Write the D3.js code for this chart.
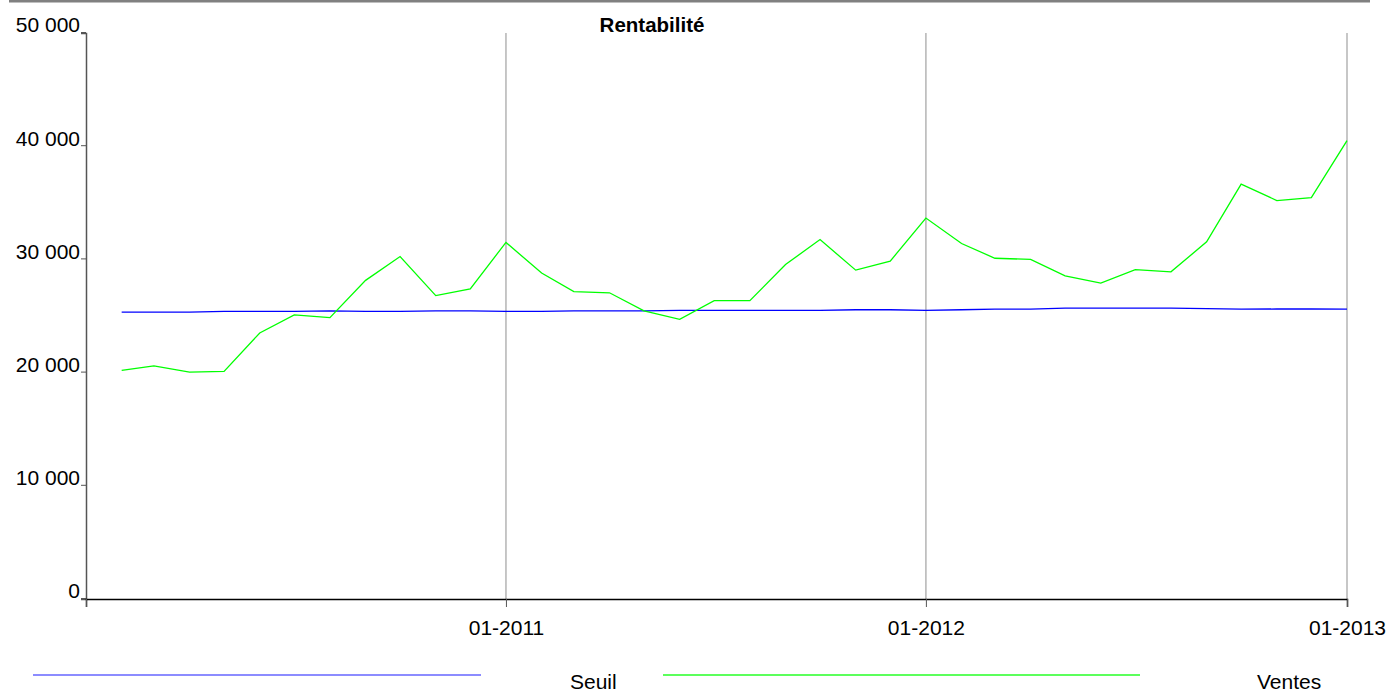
<!DOCTYPE html>
<html lang="fr">
<head>
<meta charset="UTF-8">
<title>Rentabilité</title>
<script src="https://d3js.org/d3.v7.min.js"></script>
<style>
  body { margin: 0; background: #fff; }
  text { font-family: "Liberation Sans", Arial, sans-serif; }
</style>
</head>
<body>
<div id="chart"></div>
<script>
// mois (fin de période) et valeurs
var months = ["2010-02","2010-03","2010-04","2010-05","2010-06","2010-07","2010-08","2010-09","2010-10","2010-11","2010-12",
              "2011-01","2011-02","2011-03","2011-04","2011-05","2011-06","2011-07","2011-08","2011-09","2011-10","2011-11","2011-12",
              "2012-01","2012-02","2012-03","2012-04","2012-05","2012-06","2012-07","2012-08","2012-09","2012-10","2012-11","2012-12",
              "2013-01"];
var ventes = [20200, 20600, 20050, 20100, 23500, 25100, 24850, 28150, 30250, 26800, 27400,
              31500, 28800, 27150, 27050, 25450, 24700, 26350, 26350, 29550, 31750, 29050, 29850,
              33650, 31400, 30100, 30000, 28550, 27900, 29100, 28900, 31550, 36650, 35200, 35450,
              40500];
var seuil = [25350, 25350, 25350, 25400, 25400, 25400, 25450, 25400, 25400, 25450, 25450,
             25400, 25400, 25450, 25450, 25450, 25500, 25500, 25500, 25500, 25500, 25550, 25550,
             25500, 25550, 25600, 25600, 25700, 25700, 25700, 25700, 25650, 25600, 25620, 25620,
             25600];
var yTicks = [0, 10000, 20000, 30000, 40000, 50000];
var xTicks = ["2010-01", "2011-01", "2012-01", "2013-01"];
var seriesNames = ["Seuil", "Ventes"];
var seriesColors = ["#0000ff", "#00ff00"];

var W = 1389, H = 693;
var parse = d3.timeParse("%Y-%m");
var fmt = d3.timeFormat("%m-%Y");
var fmtY = function(v) { return d3.format(",")(v).replace(/,/g, " "); };

var svg = d3.select("#chart").append("svg")
    .attr("width", W).attr("height", H);

// trait gris en haut
svg.append("rect")
    .attr("x", 9).attr("y", 0).attr("width", 1361).attr("height", 2.5)
    .attr("fill", "#808080");

var x = d3.scaleTime()
    .domain([parse("2010-01"), parse("2013-01")])
    .range([86, 1347]);
var y = d3.scaleLinear()
    .domain([0, 50000])
    .range([599, 33]);

// grille verticale
svg.append("g").selectAll("line")
    .data(xTicks.slice(1))
    .enter().append("line")
    .attr("x1", function(d) { return x(parse(d)); })
    .attr("x2", function(d) { return x(parse(d)); })
    .attr("y1", y(50000)).attr("y2", y(0))
    .attr("stroke", "#b4b4b4").attr("stroke-width", 1.5);

// axe Y
var yAxis = svg.append("g")
    .attr("transform", "translate(86,0)")
    .call(d3.axisLeft(y).tickValues(yTicks).tickSize(5).tickFormat(fmtY));
yAxis.select(".domain").attr("stroke", "#555").attr("stroke-width", 1.5);
yAxis.selectAll(".tick line").attr("stroke", "#555").attr("transform", "translate(0,-1)");
yAxis.selectAll(".tick text")
    .attr("x", -6).attr("dy", "-0.05em")
    .attr("font-size", 21).attr("font-family", null).attr("fill", "#000");

// axe X
var xAxis = svg.append("g")
    .attr("transform", "translate(0,599)")
    .call(d3.axisBottom(x).tickValues(xTicks.map(parse)).tickSize(8).tickFormat(function(d, i) { return i === 0 ? "" : fmt(d); }));
xAxis.select(".domain").attr("stroke", "#000").attr("stroke-width", 1.5);
xAxis.selectAll(".tick line").attr("stroke", "#555");
xAxis.selectAll(".tick text")
    .attr("y", 36).attr("dy", 0)
    .attr("font-size", 21).attr("font-family", null).attr("fill", "#000");

// titre
svg.append("text")
    .attr("x", 652).attr("y", 32)
    .attr("text-anchor", "middle")
    .attr("font-size", 20.5).attr("font-weight", "bold")
    .text("Rentabilité");

// courbes
var line = d3.line()
    .x(function(d) { return x(parse(d.m)); })
    .y(function(d) { return y(d.v); });

[seuil, ventes].forEach(function(vals, k) {
    svg.append("path")
        .datum(months.map(function(m, i) { return {m: m, v: vals[i]}; }))
        .attr("fill", "none")
        .attr("stroke", seriesColors[k])
        .attr("stroke-width", 1.3)
        .attr("d", line);
});

// légende
var legX = [[33, 481, 570], [663, 1140, 1257]];
seriesNames.forEach(function(name, k) {
    svg.append("line")
        .attr("x1", legX[k][0]).attr("x2", legX[k][1])
        .attr("y1", 675).attr("y2", 675)
        .attr("stroke", seriesColors[k]).attr("stroke-width", 1.3)
        .attr("opacity", k === 0 ? 0.6 : 0.85);
    svg.append("text")
        .attr("x", legX[k][2]).attr("y", 689)
        .attr("font-size", 21)
        .text(name);
});
</script>
</body>
</html>
